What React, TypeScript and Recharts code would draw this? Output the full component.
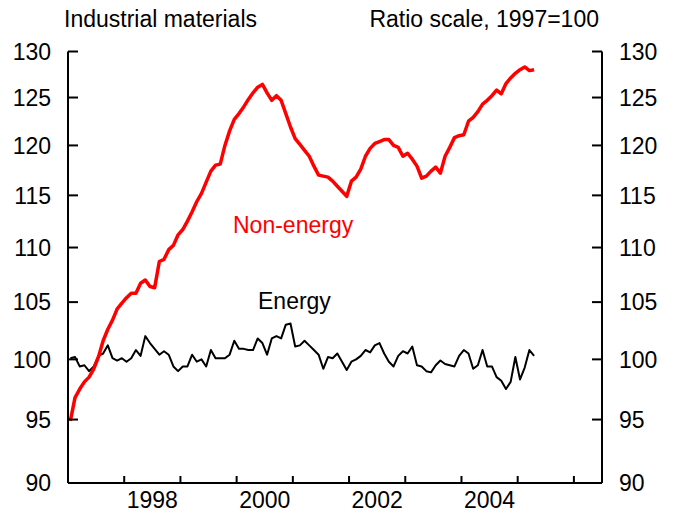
import React from "react";
import { LineChart, Line, XAxis, YAxis } from "recharts";

// monthly, Jan 1997 .. Apr 2005, ratio scale 1997=100
const startYear = 1997;

const nonEnergy = [
  94.9, 96.8, 97.5, 98.1, 98.5, 99.2, 100.2, 101.6, 102.6, 103.4, 104.4, 104.9,
  105.4, 105.8, 105.8, 106.7, 107.0, 106.4, 106.3, 108.7, 108.9, 109.8, 110.2, 111.2,
  111.7, 112.5, 113.4, 114.4, 115.2, 116.3, 117.4, 118.0, 118.1, 120.0, 121.5, 122.7,
  123.3, 124.0, 124.8, 125.5, 126.1, 126.4, 125.5, 124.7, 125.2, 124.7, 123.3, 121.9,
  120.7, 120.1, 119.5, 118.9, 117.9, 117.0, 116.9, 116.8, 116.4, 115.9, 115.4, 114.9,
  116.4, 116.8, 117.6, 118.9, 119.7, 120.2, 120.4, 120.6, 120.6, 120.0, 119.8, 118.9,
  119.2, 118.6, 117.9, 116.7, 116.9, 117.4, 117.8, 117.2, 118.9, 119.8, 120.8, 121.0,
  121.1, 122.5, 122.9, 123.5, 124.3, 124.7, 125.2, 125.8, 125.4, 126.5, 127.1, 127.6,
  128.0, 128.3, 127.9, 128.0,
];

const energy = [
  100.1, 100.2, 99.4, 99.5, 99.0, 99.4, 100.3, 100.5, 101.2, 100.1, 99.9, 100.1,
  99.8, 100.1, 100.8, 100.3, 102.0, 101.4, 100.9, 100.4, 100.7, 100.4, 99.4, 99.0,
  99.4, 99.4, 100.4, 99.8, 100.0, 99.4, 100.8, 100.1, 100.1, 100.1, 100.4, 101.6,
  100.9, 100.9, 100.8, 100.8, 101.8, 101.4, 100.4, 101.8, 102.0, 101.8, 103.0, 103.1,
  101.1, 101.2, 101.6, 101.2, 100.8, 100.4, 99.2, 100.2, 100.1, 100.5, 99.8, 99.1,
  99.8, 100.0, 100.3, 100.8, 100.6, 101.2, 101.4, 100.5, 99.8, 99.4, 100.3, 100.7,
  100.5, 101.1, 99.5, 99.4, 99.0, 98.9, 99.5, 99.9, 99.6, 99.5, 99.4, 100.3,
  100.8, 100.5, 99.2, 99.5, 100.8, 99.4, 99.4, 98.5, 98.2, 97.5, 98.1, 100.2,
  98.3, 99.3, 100.8, 100.3,
];

const yTicks = [90, 95, 100, 105, 110, 115, 120, 125, 130];
const yearTicks = [1998, 1999, 2000, 2001, 2002, 2003, 2004, 2005, 2006];
const yearLabels = [1998, 2000, 2002, 2004];

const data = nonEnergy.map((v, i) => ({
  t: startYear + (i + 0.5) / 12,
  nonEnergy: v,
  energy: energy[i],
}));

const font = "'Liberation Sans', Arial, sans-serif";
const tickStyle = { fill: "#000", fontSize: 23, fontFamily: font };
const axisStroke = { stroke: "#000", strokeWidth: 2 };

const App: React.FC = () => {
  return (
    <div style={{ position: "absolute", left: 0, top: 0, width: 673, height: 514, background: "#fff" }}>
      <LineChart
        width={673}
        height={514}
        data={data}
        margin={{ top: 51.5, right: 0, left: 0, bottom: 0 }}
      >
        {/* year labels sit mid-year, below the tick axis */}
        <XAxis
          xAxisId="b_labels"
          dataKey="t"
          type="number"
          domain={[1997, 2006.5]}
          ticks={yearLabels.map((y) => y + 0.5)}
          interval={0}
          height={30}
          tickSize={0}
          tickMargin={8}
          tickFormatter={(v: number) => String(Math.floor(v))}
          axisLine={false}
          tickLine={false}
          tick={tickStyle}
        />
        <XAxis
          xAxisId="a_years"
          dataKey="t"
          type="number"
          domain={[1997, 2006.5]}
          ticks={yearTicks}
          interval={0}
          height={1}
          tickSize={-7}
          tickFormatter={() => ""}
          axisLine={axisStroke}
          tickLine={axisStroke}
        />
        <YAxis
          yAxisId="left"
          orientation="left"
          type="number"
          scale="log"
          domain={[90, 130]}
          allowDataOverflow
          ticks={yTicks}
          interval={0}
          width={68}
          tickSize={-10}
          tickMargin={27}
          axisLine={axisStroke}
          tickLine={axisStroke}
          tick={tickStyle}
        />
        <YAxis
          yAxisId="right"
          orientation="right"
          type="number"
          scale="log"
          domain={[90, 130]}
          allowDataOverflow
          ticks={yTicks}
          interval={0}
          width={71}
          tickSize={-10}
          tickMargin={27}
          axisLine={axisStroke}
          tickLine={axisStroke}
          tick={tickStyle}
        />
        <Line
          xAxisId="a_years"
          yAxisId="left"
          type="linear"
          dataKey="energy"
          stroke="#000"
          strokeWidth={2}
          strokeLinejoin="round"
          dot={false}
          activeDot={false}
          isAnimationActive={false}
        />
        <Line
          xAxisId="a_years"
          yAxisId="left"
          type="linear"
          dataKey="nonEnergy"
          stroke="#ff0000"
          strokeWidth={3.5}
          strokeLinejoin="round"
          dot={false}
          activeDot={false}
          isAnimationActive={false}
        />
      </LineChart>
      <svg
        width={673}
        height={514}
        style={{ position: "absolute", left: 0, top: 0, pointerEvents: "none" }}
        fontFamily={font}
        fontSize={23}
      >
        <text x={64} y={27} fill="#000">Industrial materials</text>
        <text x={599} y={27} fill="#000" textAnchor="end">Ratio scale, 1997=100</text>
        <text x={233} y={233} fill="#ff0000">Non-energy</text>
        <text x={258} y={309} fill="#000">Energy</text>
      </svg>
    </div>
  );
};

export default App;
